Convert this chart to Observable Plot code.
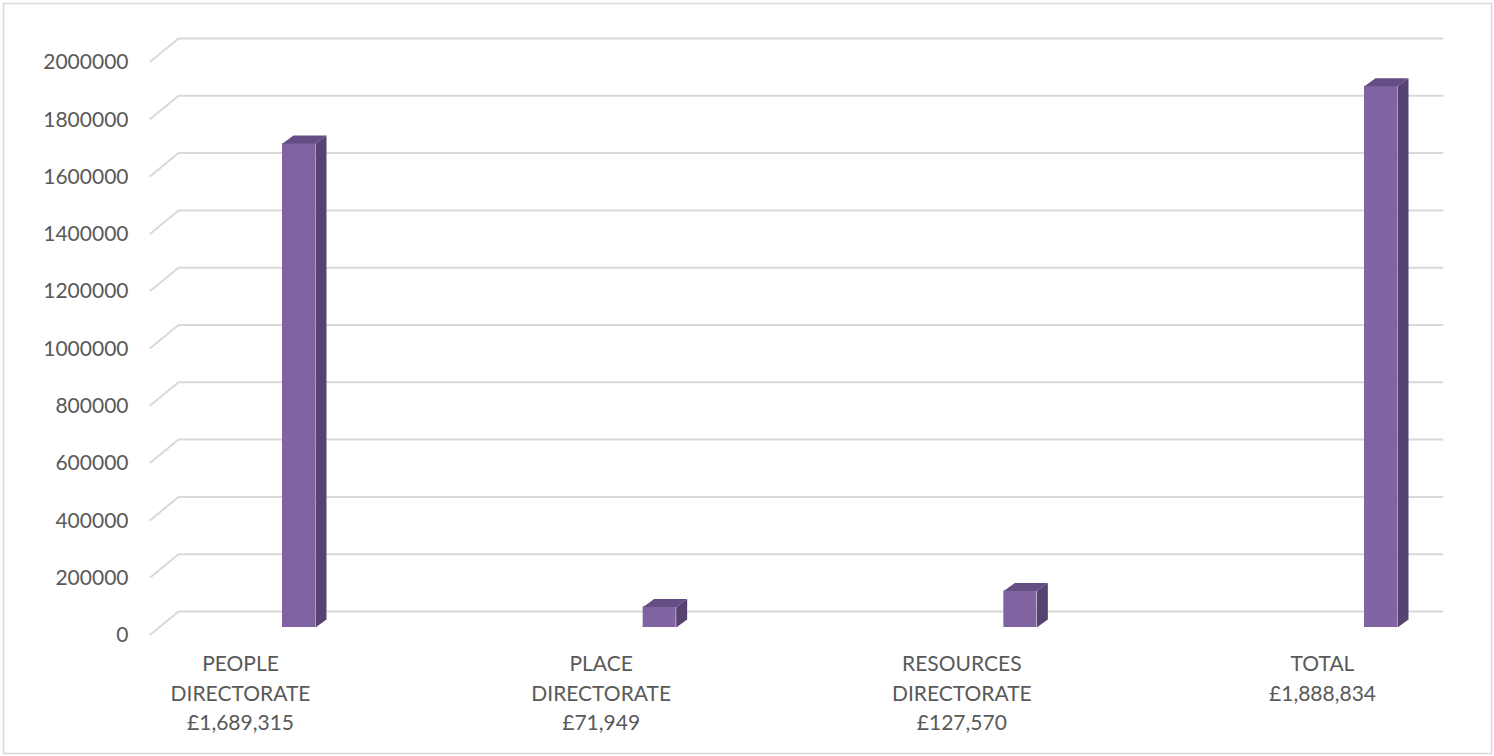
<!DOCTYPE html>
<html><head><meta charset="utf-8">
<script src="https://cdn.jsdelivr.net/npm/d3@7"></script>
<script src="https://cdn.jsdelivr.net/npm/@observablehq/plot@0.6"></script>
<style>body{margin:0;background:#fff}svg{display:block}</style>
</head><body><div id="chart"></div>
<script>
const categories = ["PEOPLE DIRECTORATE", "PLACE DIRECTORATE", "RESOURCES DIRECTORATE", "TOTAL"];
const amounts = [1689315, 71949, 127570, 1888834];
const yTicks = [0, 200000, 400000, 600000, 800000, 1000000, 1200000, 1400000, 1600000, 1800000, 2000000];
const yTickLabels = ["0", "200000", "400000", "600000", "800000", "1000000", "1200000", "1400000", "1600000", "1800000", "2000000"];

const W = 1494, H = 756;
const xRange = [298.5, 1380.5], yRange = [627, 54];
const yDomain = [0, 2000000];
const pxX = (categories.length - 1) / (xRange[1] - xRange[0]);
const pxY = (yDomain[1] - yDomain[0]) / (yRange[0] - yRange[1]);
const halfW = 16.5 * pxX;
const depthX = 11 * pxX, depthY = 8 * pxY;
const xFront = (150 - xRange[0]) * pxX, xBack = (178 - xRange[0]) * pxX, xEnd = (1442 - xRange[0]) * pxX;
const frontOff = -7 * pxY, backOff = 16 * pxY;

const font = "Lato, Carlito, Calibri, 'Open Sans', sans-serif";
const textColor = "#595959";

const bars = categories.map((c, i) => ({i, c, v: amounts[i]}));
const grid = yTicks.flatMap(v => [
  {v, x: xFront, y: v + frontOff},
  {v, x: xBack, y: v + backOff},
  {v, x: xEnd, y: v + backOff}
]);
const sides = bars.flatMap(d => [
  [d.i + halfW, 0], [d.i + halfW + depthX, depthY], [d.i + halfW + depthX, d.v + depthY], [d.i + halfW, d.v]
].map(([x, y]) => ({id: d.i, x, y})));
const tops = bars.flatMap(d => [
  [d.i - halfW, d.v], [d.i - halfW + depthX, d.v + depthY], [d.i + halfW + depthX, d.v + depthY], [d.i + halfW, d.v]
].map(([x, y]) => ({id: d.i, x, y})));

const chart = Plot.plot({
  width: W, height: H,
  marginTop: 3, marginLeft: 3, marginRight: 3, marginBottom: 3,
  style: {fontFamily: font, background: "#fff"},
  x: {type: "linear", domain: [0, categories.length - 1], range: xRange, axis: null},
  y: {type: "linear", domain: yDomain, range: yRange, axis: null},
  marks: [
    Plot.frame({stroke: "#d9d9d9", strokeWidth: 1.5}),
    Plot.line(grid, {x: "x", y: "y", z: "v", stroke: "#d9d9d9", strokeWidth: 2}),
    Plot.text(yTicks, {x: () => xFront, y: v => v + frontOff, text: (v, i) => yTickLabels[i], textAnchor: "end", dx: -22, dy: 1, fontSize: 21, fill: textColor}),
    Plot.rect(bars, {x1: d => d.i - halfW, x2: d => d.i + halfW, y1: 0, y2: "v", fill: "#8064a2"}),
    Plot.line(sides, {x: "x", y: "y", z: "id", fill: "#564371", stroke: "none", curve: "linear-closed"}),
    Plot.line(tops, {x: "x", y: "y", z: "id", fill: "#634d82", stroke: "none", curve: "linear-closed"}),
    Plot.text(bars, {
      x: "i", y: 0,
      text: d => d.c.split(" ").join("\n") + "\n£" + d3.format(",")(d.v),
      lineAnchor: "top", lineHeight: 1.4, dy: 23, dx: -58.5,
      fontSize: 21, fill: textColor
    })
  ]
});
document.getElementById("chart").append(chart);
</script>
</body></html>
